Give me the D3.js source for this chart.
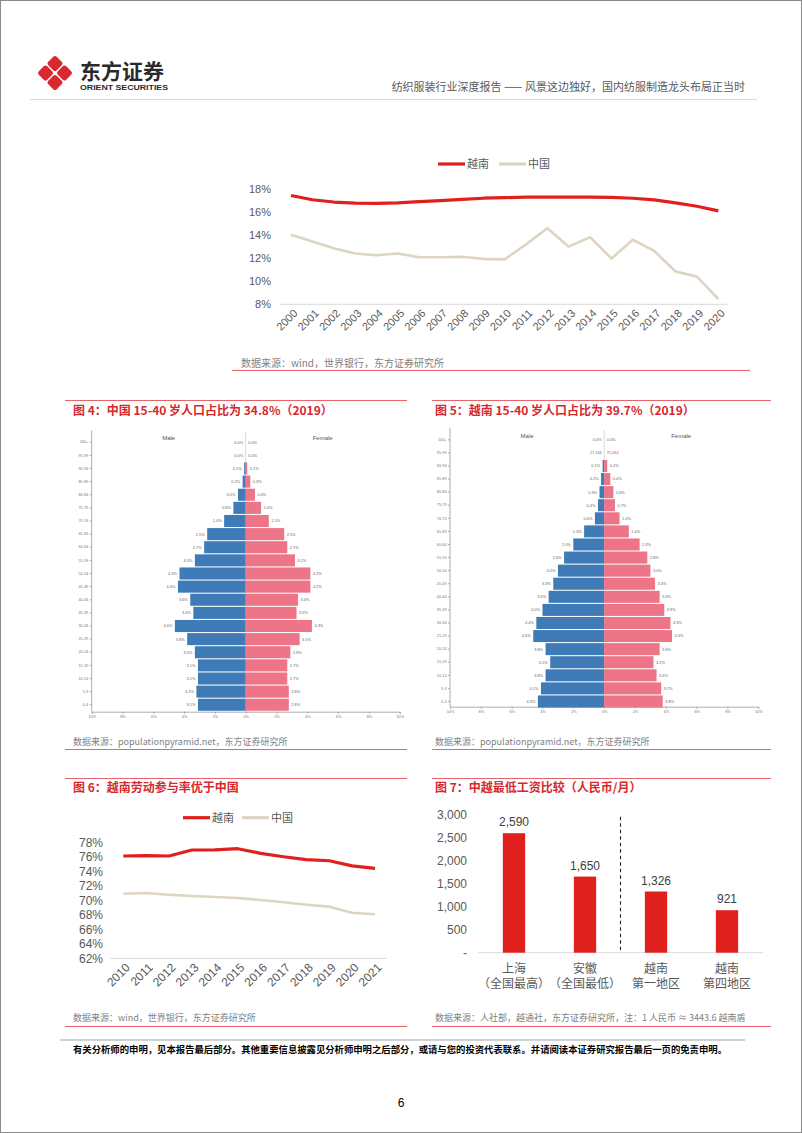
<!DOCTYPE html>
<html><head><meta charset="utf-8">
<script src="https://cdn.jsdelivr.net/npm/d3@7"></script>
<style>body{margin:0;background:#fff;} svg{display:block;}</style>
</head><body><svg id="page" width="802" height="1133"></svg>
<script>
// ---------------- DATA ----------------
const topYears = ["2000","2001","2002","2003","2004","2005","2006","2007","2008","2009","2010","2011","2012","2013","2014","2015","2016","2017","2018","2019","2020"];
const topVietnam = [17.44,17.07,16.87,16.78,16.75,16.8,16.9,17.0,17.1,17.2,17.25,17.3,17.3,17.3,17.3,17.27,17.2,17.05,16.8,16.5,16.1];
const topChina = [14.03,13.45,12.87,12.4,12.26,12.4,12.08,12.08,12.12,11.94,11.9,13.2,14.6,13.0,13.83,11.97,13.6,12.63,10.84,10.4,8.46];
const topTicks = [8,10,12,14,16,18];

const ageGroups = ["100+","95-99","90-94","85-89","80-84","75-79","70-74","65-69","60-64","55-59","50-54","45-49","40-44","35-39","30-34","25-29","20-24","15-19","10-14","5-9","0-4"];
const chinaMale   = [0.0,0.0,0.1,0.2,0.5,0.8,1.4,2.5,2.7,3.3,4.3,4.4,3.6,3.4,4.6,3.8,3.3,3.1,3.1,3.2,3.1];
const chinaFemale = [0.0,0.0,0.1,0.3,0.6,1.0,1.5,2.5,2.7,3.2,4.2,4.2,3.4,3.3,4.3,3.5,2.9,2.7,2.7,2.8,2.8];
const vnMale      = [0.0,0.0,0.1,0.2,0.3,0.4,0.6,1.3,2.0,2.6,3.0,3.3,3.6,4.0,4.4,4.6,3.8,3.5,3.8,4.1,4.3];
const vnFemale    = [0.0,0.0,0.2,0.4,0.6,0.7,1.0,1.6,2.3,2.8,3.0,3.3,3.6,3.9,4.3,4.4,3.6,3.2,3.4,3.7,3.8];
const vnCountLabels = {row:"95-99", male:"27,146", female:"75,064"};
const pyrTicks = [-10,-8,-6,-4,-2,0,2,4,6,8,10];

const lfYears = ["2010","2011","2012","2013","2014","2015","2016","2017","2018","2019","2020","2021"];
const lfVietnam = [76.16,76.2,76.16,76.99,77.0,77.17,76.53,76.06,75.65,75.5,74.8,74.45];
const lfChina   = [70.94,71.04,70.8,70.62,70.48,70.35,70.07,69.75,69.42,69.15,68.3,68.1];
const lfTicks = [62,64,66,68,70,72,74,76,78];

const wageCats = [["上海","（全国最高）"],["安徽","（全国最低）"],["越南","第一地区"],["越南","第四地区"]];
const wageValues = [2590,1650,1326,921];
const wageTicks = [0,500,1000,1500,2000,2500,3000];

// ---------------- STYLE ----------------
const FONT = '"Liberation Sans", Arial, "Noto Sans CJK SC", sans-serif';
const CJK = '"Noto Sans CJK SC", "Liberation Sans", sans-serif';
const RED = "#e0201c", BEIGE = "#ddd5c1", TITLE = "#d7282e", RULE = "#e8646a";
const GREY = "#595959", SRC = "#7f7f7f";
const BLUE = "#3f7bb6", PINK = "#ee7487";

const svg = d3.select("#page").attr("font-family", FONT);

function txt(x, y, s, o = {}) {
  return svg.append("text").attr("x", x).attr("y", y).text(s)
    .attr("font-size", o.fs || 10).attr("fill", o.fill || "#000")
    .attr("font-weight", o.fw || "normal").attr("text-anchor", o.anchor || "start")
    .attr("font-family", o.ff || FONT);
}
function hline(x1, x2, y, color, w = 1) {
  svg.append("line").attr("x1", x1).attr("x2", x2).attr("y1", y).attr("y2", y)
    .attr("stroke", color).attr("stroke-width", w);
}

// page border
svg.append("rect").attr("x", 0.5).attr("y", 0.5).attr("width", 801).attr("height", 1132)
  .attr("fill", "none").attr("stroke", "#8a8a8a");

// ---------------- HEADER ----------------
const logo = svg.append("g").attr("transform", "translate(55,73)");
[[0,-9.5],[-9.5,0],[9.5,0],[0,9.5]].forEach(([dx,dy]) => {
  logo.append("rect").attr("x", -6).attr("y", -6).attr("width", 12).attr("height", 12)
    .attr("rx", 2.5).attr("fill", "#d9282f")
    .attr("transform", `translate(${dx},${dy}) rotate(45)`);
});
txt(80, 78.5, "东方证券", {fs: 21, fw: "bold", fill: "#2b2b2b", ff: CJK});
txt(80, 90, "ORIENT SECURITIES", {fs: 8, fw: "bold", fill: "#2b2b2b"})
  .attr("textLength", 88).attr("lengthAdjust", "spacingAndGlyphs");
txt(745, 91, "纺织服装行业深度报告 —— 风景这边独好，国内纺服制造龙头布局正当时", {fs: 11, fill: GREY, anchor: "end", ff: CJK});
hline(30, 757, 99.5, "#d9d9d9");

// ---------------- LINE CHART helper ----------------
function lineChart(c) {
  const g = svg.append("g");
  const x = d3.scalePoint(c.cats, c.xr);
  const y = d3.scaleLinear(c.ydom, c.yr);
  g.append("line").attr("x1", c.base[0]).attr("x2", c.base[1])
    .attr("y1", y(c.ydom[0])).attr("y2", y(c.ydom[0])).attr("stroke", "#d9d9d9");
  const ya = g.append("g").attr("transform", `translate(${c.yAxisX},0)`)
    .call(d3.axisLeft(y).tickValues(c.ticks).tickSize(0).tickPadding(0).tickFormat(d => d + "%"));
  ya.select(".domain").remove();
  ya.attr("font-family", FONT).attr("font-size", c.fs);
  ya.selectAll("text").attr("fill", GREY);
  const xa = g.append("g").attr("transform", `translate(0,${y(c.ydom[0])})`)
    .call(d3.axisBottom(x).tickSize(0));
  xa.select(".domain").remove();
  xa.attr("font-family", FONT).attr("font-size", c.fs);
  xa.selectAll("text").attr("fill", GREY).attr("text-anchor", "end")
    .attr("x", 0).attr("y", 0).attr("dy", "0.35em")
    .attr("transform", `translate(${c.xlab[0]},${c.xlab[1]}) rotate(-45)`);
  const line = d3.line().x((d, i) => x(c.cats[i])).y(d => y(d));
  g.append("path").datum(c.china).attr("d", line).attr("fill", "none")
    .attr("stroke", BEIGE).attr("stroke-width", 2.6).attr("stroke-linejoin", "round");
  g.append("path").datum(c.vn).attr("d", line).attr("fill", "none")
    .attr("stroke", RED).attr("stroke-width", 3.2).attr("stroke-linejoin", "round");
  // legend
  const L = c.legend;
  g.append("line").attr("x1", L.x).attr("x2", L.x + 27).attr("y1", L.y).attr("y2", L.y)
    .attr("stroke", RED).attr("stroke-width", 3.2);
  g.append("text").attr("x", L.x + 29).attr("y", L.y + 4).text("越南")
    .attr("font-size", 11).attr("fill", GREY).attr("font-family", CJK);
  g.append("line").attr("x1", L.x2).attr("x2", L.x2 + 27).attr("y1", L.y).attr("y2", L.y)
    .attr("stroke", BEIGE).attr("stroke-width", 3.2);
  g.append("text").attr("x", L.x2 + 29).attr("y", L.y + 4).text("中国")
    .attr("font-size", 11).attr("fill", GREY).attr("font-family", CJK);
}

// ---------------- TOP CHART ----------------
lineChart({
  cats: topYears, xr: [291, 718.3], ydom: [8, 18], yr: [304.3, 189],
  ticks: topTicks, base: [280, 728], yAxisX: 271, fs: 11, xlab: [4, 7],
  vn: topVietnam, china: topChina, legend: {x: 438, x2: 499, y: 164}
});
txt(241, 367, "数据来源：wind，世界银行，东方证券研究所", {fs: 10, fill: SRC, ff: CJK});
hline(232, 750, 370.5, RULE);

// ---------------- PYRAMIDS ----------------
function pyramid(c) {
  const g = svg.append("g");
  const x = d3.scaleLinear([-10, 10], [c.x0, c.x1]);
  const y = d3.scaleBand(ageGroups, [c.top, c.bottom]).paddingInner(0.08);
  const cx = x(0);
  g.append("line").attr("x1", cx).attr("x2", cx).attr("y1", c.top - 4).attr("y2", c.axisY)
    .attr("stroke", "#cfcfcf").attr("stroke-width", 0.8);
  const la = g.append("g").attr("transform", `translate(${c.x0},0)`)
    .call(d3.axisLeft(y).tickSize(2).tickPadding(1.5));
  la.select(".domain").attr("d", `M0,${c.top - 6}V${c.axisY}`);
  la.attr("font-family", FONT).attr("font-size", 3.8);
  la.selectAll("line, path").attr("stroke", "#9a9a9a").attr("stroke-width", 0.8);
  la.selectAll("text").attr("fill", "#777");
  const ba = g.append("g").attr("transform", `translate(0,${c.axisY})`)
    .call(d3.axisBottom(x).tickValues(pyrTicks).tickSize(2).tickPadding(2).tickFormat(d => Math.abs(d) + "%"));
  ba.attr("font-family", FONT).attr("font-size", 3.8);
  ba.selectAll("line, path").attr("stroke", "#9a9a9a").attr("stroke-width", 0.8);
  ba.selectAll("text").attr("fill", "#777");
  g.selectAll(".m").data(c.male).join("rect")
    .attr("x", d => x(-d)).attr("width", d => cx - x(-d))
    .attr("y", (d, i) => y(ageGroups[i])).attr("height", y.bandwidth()).attr("fill", BLUE);
  g.selectAll(".f").data(c.female).join("rect")
    .attr("x", cx).attr("width", d => x(d) - cx)
    .attr("y", (d, i) => y(ageGroups[i])).attr("height", y.bandwidth()).attr("fill", PINK);
  const fmt = d => d.toFixed(1) + "%";
  c.male.forEach((d, i) => {
    const a = ageGroups[i];
    const special = c.counts && c.counts.row === a;
    g.append("text").attr("x", x(-d) - 2.5).attr("y", y(a) + y.bandwidth() / 2 + 1.4)
      .attr("text-anchor", "end").attr("font-size", 3.9)
      .attr("fill", special ? BLUE : "#666").text(special ? c.counts.male : fmt(d));
  });
  c.female.forEach((d, i) => {
    const a = ageGroups[i];
    const special = c.counts && c.counts.row === a;
    g.append("text").attr("x", x(d) + 2.5).attr("y", y(a) + y.bandwidth() / 2 + 1.4)
      .attr("text-anchor", "start").attr("font-size", 3.9)
      .attr("fill", special ? "#e0455c" : "#666").text(special ? c.counts.female : fmt(d));
  });
  g.append("text").attr("x", x(-5)).attr("y", c.hy).attr("text-anchor", "middle")
    .attr("font-size", 6).attr("fill", "#555").text("Male");
  g.append("text").attr("x", x(5)).attr("y", c.hy).attr("text-anchor", "middle")
    .attr("font-size", 6).attr("fill", "#555").text("Female");
}

// Fig 4
hline(65, 407, 400.5, RULE);
txt(73, 414.5, "图 4：中国 15-40 岁人口占比为 34.8%（2019）", {fs: 12, fw: "bold", fill: TITLE, ff: CJK});
pyramid({x0: 91.7, x1: 399.7, top: 436.2, bottom: 710.8, axisY: 711.7, hy: 440,
  male: chinaMale, female: chinaFemale});
txt(73, 745, "数据来源：populationpyramid.net，东方证券研究所", {fs: 9, fill: SRC, ff: CJK});
hline(65, 407, 749.5, RULE);

// Fig 5
hline(432, 771, 400.5, RULE);
txt(435, 414.5, "图 5：越南 15-40 岁人口占比为 39.7%（2019）", {fs: 12, fw: "bold", fill: TITLE, ff: CJK});
pyramid({x0: 450, x1: 758.3, top: 433.8, bottom: 707.5, axisY: 706.7, hy: 437.5,
  male: vnMale, female: vnFemale, counts: vnCountLabels});
txt(435, 745, "数据来源：populationpyramid.net，东方证券研究所", {fs: 9, fill: SRC, ff: CJK});
hline(432, 771, 749.5, RULE);

// ---------------- FIG 6 ----------------
hline(65, 407, 778.5, RULE);
txt(73, 791.5, "图 6：越南劳动参与率优于中国", {fs: 12, fw: "bold", fill: TITLE, ff: CJK});
lineChart({
  cats: lfYears, xr: [123.3, 375], ydom: [62, 78], yr: [958.3, 842.7],
  ticks: lfTicks, base: [110, 387], yAxisX: 103, fs: 12, xlab: [4, 7],
  vn: lfVietnam, china: lfChina, legend: {x: 183, x2: 242, y: 817.7}
});
txt(73, 1020.5, "数据来源：wind，世界银行，东方证券研究所", {fs: 9, fill: SRC, ff: CJK});
hline(65, 407, 1026.5, RULE);

// ---------------- FIG 7 ----------------
hline(432, 771, 778.5, RULE);
txt(435, 791.5, "图 7：中越最低工资比较（人民币/月）", {fs: 12, fw: "bold", fill: TITLE, ff: CJK});
(function () {
  const g = svg.append("g");
  const keys = wageCats.map(d => d.join(""));
  const x = d3.scaleBand(keys, [478, 763]).paddingInner(0.686).paddingOuter(0.35);
  const y = d3.scaleLinear([0, 3000], [952.7, 814.3]);
  g.append("line").attr("x1", 478).attr("x2", 763).attr("y1", y(0)).attr("y2", y(0)).attr("stroke", "#d9d9d9");
  const ya = g.append("g").attr("transform", "translate(467,0)")
    .call(d3.axisLeft(y).tickValues(wageTicks).tickSize(0).tickPadding(0)
      .tickFormat(d => d === 0 ? "-" : d3.format(",")(d)));
  ya.select(".domain").remove();
  ya.attr("font-family", FONT).attr("font-size", 12);
  ya.selectAll("text").attr("fill", GREY);
  g.selectAll(".bar").data(wageValues).join("rect")
    .attr("x", (d, i) => x(keys[i])).attr("width", x.bandwidth())
    .attr("y", d => y(d)).attr("height", d => y(0) - y(d)).attr("fill", RED);
  g.selectAll(".vl").data(wageValues).join("text")
    .attr("x", (d, i) => x(keys[i]) + x.bandwidth() / 2).attr("y", d => y(d) - 7)
    .attr("text-anchor", "middle").attr("font-size", 12).attr("fill", "#404040")
    .text(d => d3.format(",")(d));
  const xa = g.append("g").attr("transform", `translate(0,${y(0)})`)
    .call(d3.axisBottom(x).tickSize(0).tickFormat(() => ""));
  xa.select(".domain").remove();
  wageCats.forEach((c, i) => {
    const cxp = x(keys[i]) + x.bandwidth() / 2;
    const t = g.append("text").attr("text-anchor", "middle").attr("font-size", 12)
      .attr("fill", GREY).attr("font-family", CJK);
    t.append("tspan").attr("x", cxp).attr("y", 972.5).text(c[0]);
    t.append("tspan").attr("x", cxp).attr("y", 987.5).text(c[1]);
  });
  const dx = (x(keys[1]) + x.bandwidth() + x(keys[2])) / 2;
  g.append("line").attr("x1", dx).attr("x2", dx).attr("y1", 816.7).attr("y2", 950)
    .attr("stroke", "#222").attr("stroke-width", 1.1).attr("stroke-dasharray", "3.5,3");
})();
txt(435, 1020.5, "数据来源：人社部，越通社，东方证券研究所，注：1 人民币 ≈ 3443.6 越南盾", {fs: 9, fill: SRC, ff: CJK});
hline(432, 771, 1026.5, RULE);

// ---------------- FOOTER ----------------
hline(60, 745, 1040, "#a6a6a6", 1.2);
txt(73, 1052.5, "有关分析师的申明，见本报告最后部分。其他重要信息披露见分析师申明之后部分，或请与您的投资代表联系。并请阅读本证券研究报告最后一页的免责申明。",
  {fs: 9.5, fw: "bold", fill: "#000", ff: CJK}).attr("textLength", 654).attr("lengthAdjust", "spacingAndGlyphs");
txt(401, 1107, "6", {fs: 12, fill: "#000", anchor: "middle"});
</script></body></html>
